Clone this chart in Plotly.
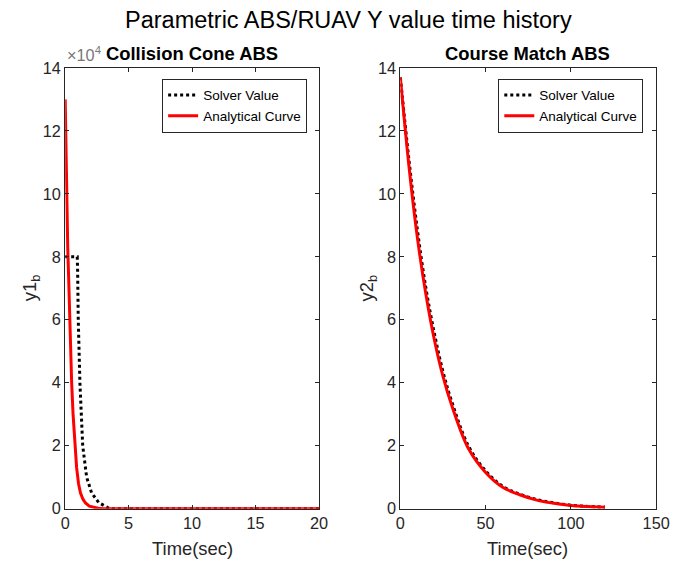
import plotly.graph_objects as go
from plotly.subplots import make_subplots

# Collision Cone ABS: time (s) and y1_b values
cc_solver_t = [0, 0.95, 0.98, 1.03, 1.16, 1.38, 1.69, 2.08, 2.65, 3.5, 20]
cc_solver_y = [80000, 80000, 75500, 60000, 40000, 20000, 10000, 5000, 1900, 0, 0]
cc_analytic_t = [0, 0.05, 0.1, 0.15, 0.2, 0.26, 0.36, 0.51, 0.62, 0.75, 0.9,
                 1.05, 1.2, 1.4, 1.6, 1.9, 2.2, 2.6, 3, 5, 10, 15, 20]
cc_analytic_y = [130000, 116000, 103000, 92000, 83000, 75000, 60000, 40000, 30000,
                 20000, 13000, 8000, 5000, 3000, 1800, 800, 400, 100, 0, 0, 0, 0, 0]

# Course Match ABS: time (s) and y2_b values
cm_t = [0, 5, 10, 15, 20, 25, 30, 40, 50, 60, 70, 80, 90, 100, 110, 120]
cm_solver_y = [13.7, 11.1, 8.85, 7.0, 5.55, 4.35, 3.42, 1.98, 1.2, 0.71, 0.46,
               0.29, 0.18, 0.11, 0.07, 0.05]
cm_analytic_y = [13.7, 10.9, 8.6, 6.8, 5.35, 4.2, 3.3, 1.9, 1.15, 0.68, 0.44,
                 0.27, 0.17, 0.1, 0.065, 0.045]

left_xticks = [0, 5, 10, 15, 20]
right_xticks = [0, 50, 100, 150]
yticks = [0, 2, 4, 6, 8, 10, 12, 14]

FONT = "Liberation Sans, Arial, Helvetica, sans-serif"
AX = "#262626"
W, H = 673, 563

# layout helpers: pixel position -> paper fraction, with a small correction
# for the page being displayed slightly reduced
SX, OX, SY, OY = 0.98, 3.3, 0.973, 6.8
px = lambda v: ((v - OX) / SX) / W
py = lambda v: 1 - ((v - OY) / SY) / H
fs = lambda s: round(s / SX, 1)

fig = make_subplots(rows=1, cols=2)

solver_line = dict(color="black", width=3, dash="dot")
analytic_line = dict(color="#ff0000", width=3)

fig.add_trace(go.Scatter(x=cc_solver_t, y=cc_solver_y, mode="lines", name="Solver Value",
                         line=solver_line, legend="legend"), row=1, col=1)
fig.add_trace(go.Scatter(x=cc_analytic_t, y=cc_analytic_y, mode="lines", name="Analytical Curve",
                         line=analytic_line, legend="legend"), row=1, col=1)
fig.add_trace(go.Scatter(x=cm_t, y=cm_solver_y, mode="lines", name="Solver Value",
                         line=dict(solver_line, shape="spline"), legend="legend2"), row=1, col=2)
fig.add_trace(go.Scatter(x=cm_t, y=cm_analytic_y, mode="lines", name="Analytical Curve",
                         line=dict(analytic_line, shape="spline"), legend="legend2"), row=1, col=2)

# plot areas in pixels
L1, R1, L2, R2 = 64, 320, 402, 660
TOP, BOT = 66, 509

axis_common = dict(showgrid=False, zeroline=False, showline=True, linecolor=AX, linewidth=1,
                   mirror="ticks", ticks="inside", ticklen=4, tickcolor=AX,
                   ticklabeloverflow="allow",
                   tickfont=dict(family=FONT, size=fs(16), color=AX))

fig.update_xaxes(axis_common)
fig.update_yaxes(axis_common)
fig.update_xaxes(domain=[px(L1), px(R1)], range=[0, 20], tickvals=left_xticks, row=1, col=1)
fig.update_xaxes(domain=[px(L2), px(R2)], range=[0, 150], tickvals=right_xticks, row=1, col=2)
fig.update_yaxes(domain=[py(BOT), py(TOP)], range=[0, 140000],
                 tickvals=[v * 10000 for v in yticks], ticktext=[str(v) for v in yticks],
                 row=1, col=1)
fig.update_yaxes(domain=[py(BOT), py(TOP)], range=[0, 14], tickvals=yticks, row=1, col=2)

legend_common = dict(bgcolor="white", bordercolor=AX, borderwidth=1,
                     font=dict(family=FONT, size=13.5, color="black"),
                     xanchor="right", yanchor="top", tracegroupgap=0, itemwidth=30)

fig.update_layout(
    width=W, height=H, margin=dict(l=0, r=0, t=0, b=0),
    paper_bgcolor="white", plot_bgcolor="white",
    font=dict(family=FONT, color=AX),
    legend=dict(legend_common, x=px(308), y=py(77)),
    legend2=dict(legend_common, x=px(647), y=py(77)),
)

ann = [
    dict(text="Parametric ABS/RUAV Y value time history", x=px(350), y=py(18),
         font=dict(size=fs(23), color="black")),
    dict(text="<b>Collision Cone ABS</b>", x=px(192), y=py(52), font=dict(size=fs(18), color="black")),
    dict(text="<b>Course Match ABS</b>", x=px(530), y=py(52), font=dict(size=fs(18), color="black")),
    dict(text="×10<sup>4</sup>", x=px(64), y=py(52), xanchor="left", font=dict(size=fs(16), color="#777")),
    dict(text="Time(sec)", x=px(192), y=py(549), font=dict(size=fs(18), color=AX)),
    dict(text="Time(sec)", x=px(530), y=py(549), font=dict(size=fs(18), color=AX)),
    dict(text="y1<sub>b</sub>", x=px(29), y=py(287), textangle=-90, font=dict(size=fs(18), color=AX)),
    dict(text="y2<sub>b</sub>", x=px(369), y=py(287), textangle=-90, font=dict(size=fs(18), color=AX)),
]
for a in ann:
    a.setdefault("xanchor", "center")
    a.update(xref="paper", yref="paper", yanchor="middle", showarrow=False)
    a["font"]["family"] = FONT
fig.update_layout(annotations=ann)

fig.write_html("out.html")
